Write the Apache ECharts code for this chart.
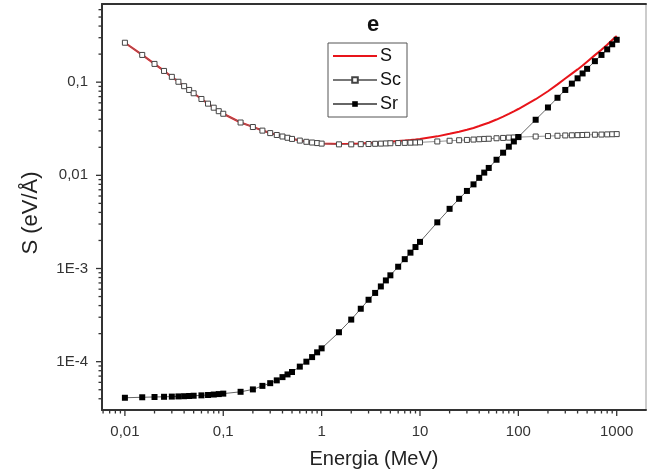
<!DOCTYPE html>
<html><head><meta charset="utf-8">
<script src="https://cdn.jsdelivr.net/npm/echarts@6/dist/echarts.min.js"></script>
<style>html,body{margin:0;padding:0;background:#fff}#c{width:648px;height:474px}</style>
</head><body><div id="c"></div>
<script>
// Energy grid (MeV)
const energy = [
  0.01, 0.015, 0.02, 0.025, 0.03, 0.035, 0.04, 0.045, 0.05, 0.06, 0.07, 0.08, 0.09,
  0.1, 0.15, 0.2, 0.25, 0.3, 0.35, 0.4, 0.45, 0.5, 0.6, 0.7, 0.8, 0.9,
  1, 1.5, 2, 2.5, 3, 3.5, 4, 4.5, 5, 6, 7, 8, 9,
  10, 15, 20, 25, 30, 35, 40, 45, 50, 60, 70, 80, 90,
  100, 150, 200, 250, 300, 350, 400, 450, 500, 600, 700, 800, 900,
  1000
];
// Total stopping power S (eV/Å)
const sTotal = [
  0.265, 0.196, 0.157, 0.132, 0.114, 0.101, 0.0905, 0.0825, 0.0760, 0.0660, 0.0588, 0.0532, 0.0488,
  0.0458, 0.0369, 0.0331, 0.0303, 0.0285, 0.0272, 0.0262, 0.0254, 0.0247, 0.0237, 0.0230, 0.0226, 0.0223,
  0.0220, 0.0217, 0.0218, 0.0220, 0.0222, 0.0224, 0.0225, 0.0227, 0.0230, 0.0233, 0.0236, 0.0239, 0.0242,
  0.0245, 0.0262, 0.0279, 0.0294, 0.0308, 0.0322, 0.0338, 0.0353, 0.0367, 0.0397, 0.0427, 0.0457, 0.0486,
  0.0515, 0.0656, 0.0799, 0.0946, 0.1093, 0.1234, 0.137, 0.151, 0.166, 0.195, 0.223, 0.252, 0.283,
  0.313
];
// Collision stopping power Sc (eV/Å)
const sCol = [
  0.265, 0.196, 0.157, 0.132, 0.114, 0.101, 0.0905, 0.0825, 0.0760, 0.0660, 0.0588, 0.0532, 0.0488,
  0.0458, 0.0369, 0.0330, 0.0302, 0.0284, 0.0271, 0.0261, 0.0253, 0.0246, 0.0236, 0.0229, 0.0225, 0.0222,
  0.0219, 0.0215, 0.0215, 0.0216, 0.0217, 0.0218, 0.0219, 0.0220, 0.0221, 0.0222, 0.0223, 0.0224, 0.0225,
  0.0226, 0.0231, 0.0235, 0.0238, 0.0240, 0.0242, 0.0244, 0.0246, 0.0247, 0.0250, 0.0252, 0.0254, 0.0255,
  0.0257, 0.0261, 0.0264, 0.0266, 0.0268, 0.0269, 0.0270, 0.0271, 0.0272, 0.0273, 0.0274, 0.0275, 0.0276,
  0.0277
];
// Radiative stopping power Sr (eV/Å)
const sRad = [
  4.10e-5, 4.15e-5, 4.18e-5, 4.20e-5, 4.22e-5, 4.24e-5, 4.26e-5, 4.28e-5, 4.31e-5, 4.35e-5, 4.39e-5, 4.44e-5, 4.49e-5,
  4.54e-5, 4.75e-5, 5.04e-5, 5.50e-5, 5.88e-5, 6.30e-5, 6.83e-5, 7.30e-5, 7.75e-5, 8.85e-5, 1.00e-4, 1.12e-4, 1.26e-4,
  1.39e-4, 2.07e-4, 2.83e-4, 3.70e-4, 4.62e-4, 5.47e-4, 6.42e-4, 7.45e-4, 8.45e-4, 1.045e-3, 1.26e-3, 1.48e-3, 1.70e-3,
  1.93e-3, 3.13e-3, 4.37e-3, 5.6e-3, 6.8e-3, 8.0e-3, 9.4e-3, 1.07e-2, 1.20e-2, 1.47e-2, 1.75e-2, 2.03e-2, 2.31e-2,
  2.58e-2, 3.95e-2, 5.35e-2, 6.80e-2, 8.25e-2, 9.65e-2, 0.110, 0.124, 0.139, 0.168, 0.196, 0.225, 0.255,
  0.285
];
// Tick labels (by decade exponent)
const xTickLabels = ['0,01', '0,1', '1', '10', '100', '1000'];   // 1e-2 .. 1e3
const yTickLabels = ['1E-4', '1E-3', '0,01', '0,1'];             // 1e-4 .. 1e-1
const X_MIN = 0.00585, X_MAX = 1985, Y_MIN = 3.03e-5, Y_MAX = 0.69;

function expOf(v){ return Math.round(Math.log10(v)); }
function isDecade(v){ const e = Math.log10(v); return Math.abs(e - Math.round(e)) < 1e-6; }

// axis tick positions (1..9 x decade)
const xTicks = [], yTicks = [];
for (let d = -3; d <= 3; d++) for (let m = 1; m <= 9; m++) {
  const v = m * Math.pow(10, d);
  if (v >= X_MIN * 1.0001 && v <= X_MAX) xTicks.push([v, Y_MIN, m === 1 ? 1 : 0]);
}
for (let d = -5; d <= 0; d++) for (let m = 1; m <= 9; m++) {
  const v = m * Math.pow(10, d);
  if (v >= Y_MIN * 1.0001 && v <= Y_MAX) yTicks.push([X_MIN, v, m === 1 ? 1 : 0]);
}

const FONT = '"Liberation Sans", Arial, sans-serif';
const chart = echarts.init(document.getElementById('c'), null, {renderer: 'canvas'});
chart.setOption({
  backgroundColor: '#fff',
  animation: false,
  textStyle: {fontFamily: FONT},
  title: {
    text: 'e', left: 362, top: 9,
    textStyle: {fontSize: 22, fontWeight: 'bold', color: '#111', fontFamily: FONT}
  },
  legend: {
    data: [
      {name: 'S', itemStyle: {color: 'rgba(0,0,0,0)', borderColor: 'rgba(0,0,0,0)', borderWidth: 0}},
      'Sc', 'Sr'
    ],
    orient: 'vertical', left: 328, top: 43,
    itemWidth: 44, itemHeight: 7, itemGap: 6,
    padding: [4, 6, 4, 4],
    borderColor: '#555', borderWidth: 1,
    textStyle: {fontSize: 18, color: '#111', fontFamily: FONT, padding: [0, 0, 0, -2]}
  },
  grid: {left: 102, right: 2, top: 4, bottom: 64, show: true, borderColor: '#999', borderWidth: 1},
  xAxis: [{
    type: 'log', logBase: 10, min: X_MIN, max: X_MAX,
    axisLine: {lineStyle: {color: '#333', width: 2}},
    axisTick: {show: false}, splitLine: {show: false}, minorTick: {show: false},
    axisLabel: {
      fontSize: 15, color: '#333', margin: 14, fontFamily: FONT,
      showMinLabel: false, showMaxLabel: false,
      formatter: v => isDecade(v) ? (xTickLabels[expOf(v) + 2] || '') : ''
    },
    name: 'Energia (MeV)', nameLocation: 'middle', nameGap: 39,
    nameTextStyle: {fontSize: 20, color: '#222', fontFamily: FONT}
  }, {
    type: 'log', logBase: 10, min: X_MIN, max: X_MAX, position: 'top',
    axisLine: {lineStyle: {color: '#333', width: 2}},
    axisTick: {show: false}, axisLabel: {show: false}, splitLine: {show: false}
  }],
  yAxis: {
    type: 'log', logBase: 10, min: Y_MIN, max: Y_MAX,
    axisLine: {lineStyle: {color: '#333', width: 2}},
    axisTick: {show: false}, splitLine: {show: false}, minorTick: {show: false},
    axisLabel: {
      fontSize: 15, color: '#333', margin: 14, fontFamily: FONT,
      showMinLabel: false, showMaxLabel: false,
      formatter: v => isDecade(v) ? (yTickLabels[expOf(v) + 4] || '') : ''
    },
    name: 'S (eV/Å)', nameLocation: 'middle', nameGap: 60, nameRotate: 90,
    nameTextStyle: {fontSize: 22, color: '#222', fontFamily: FONT, padding: [0, 12, 0, 0]}
  },
  series: [
    {
      name: 'S', type: 'line', z: 2,
      data: energy.map((e, i) => [e, sTotal[i]]),
      symbol: 'none', showSymbol: false,
      lineStyle: {color: '#e8141a', width: 2},
      itemStyle: {color: '#e8141a'}
    },
    {
      name: 'Sc', type: 'line', z: 3,
      data: energy.map((e, i) => [e, sCol[i]]),
      symbol: 'rect', symbolSize: 5, showAllSymbol: true,
      lineStyle: {color: '#777', width: 0.8},
      itemStyle: {color: '#fff', borderColor: '#444', borderWidth: 1}
    },
    {
      name: 'Sr', type: 'line', z: 4,
      data: energy.map((e, i) => [e, sRad[i]]),
      symbol: 'rect', symbolSize: 6, showAllSymbol: true,
      lineStyle: {color: '#666', width: 1},
      itemStyle: {color: '#000'}
    },
    {
      type: 'custom', silent: true, z: 6, clip: false,
      data: xTicks,
      encode: {x: 0, y: 1},
      renderItem: (params, api) => {
        const p = api.coord([api.value(0), api.value(1)]);
        const len = api.value(2) ? 6 : 3.5;
        return {type: 'line', shape: {x1: p[0], y1: p[1], x2: p[0], y2: p[1] + len},
                style: {stroke: '#333', lineWidth: 1.3}};
      }
    },
    {
      type: 'custom', silent: true, z: 6, clip: false,
      data: yTicks,
      encode: {x: 0, y: 1},
      renderItem: (params, api) => {
        const p = api.coord([api.value(0), api.value(1)]);
        const len = api.value(2) ? 6 : 3.5;
        return {type: 'line', shape: {x1: p[0] - len, y1: p[1], x2: p[0], y2: p[1]},
                style: {stroke: '#333', lineWidth: 1.3}};
      }
    }
  ]
});
</script>
</body></html>
